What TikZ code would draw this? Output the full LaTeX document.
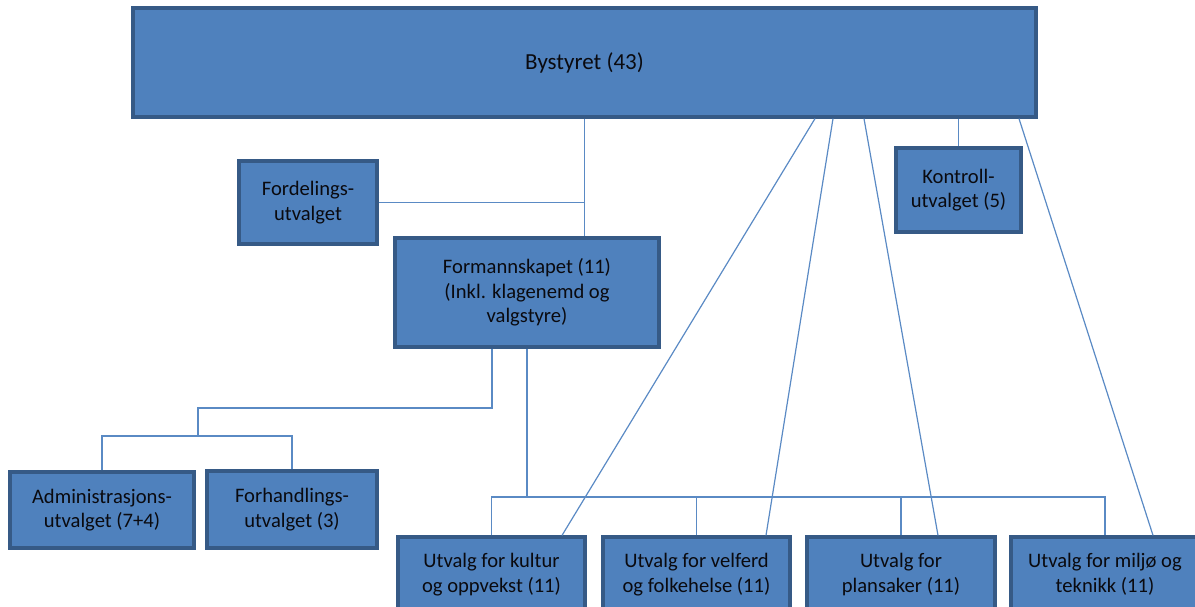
\documentclass[tikz,border=0pt]{standalone}
\usepackage{fontspec}
\setmainfont{Carlito}
\usepackage{tikz}
\usetikzlibrary{positioning,calc}
\usepackage{xcolor}
\definecolor{boxfill}{RGB}{79,129,189}
\definecolor{boxline}{RGB}{54,90,134}
\definecolor{wire}{RGB}{90,138,196}
\definecolor{ink}{RGB}{10,10,15}
\tikzset{
  unit/.style={draw=boxline,fill=boxfill,line width=3.2pt,inner sep=0pt,align=center,
    text=ink,font=\fontsize{20.6}{24.5}\selectfont},
  wire/.style={draw=wire,line width=1.2pt},
}

\begin{document}
\begin{tikzpicture}[x=1pt,y=-1pt]
\useasboundingbox (0,0) rectangle (1195,607);
% council
\node[unit,minimum width=903,minimum height=109,font=\fontsize{23}{27}\selectfont] (byst) at (584.5,62.5) {Bystyret (43)};
\node[unit,minimum width=138,minimum height=83] (ford) at (308,202.5) {Fordelings-\\utvalget};
\node[unit,minimum width=264,minimum height=109] (form) at (527,292.5) {Formannskapet (11)\\(Inkl. klagenemd og\\valgstyre)};
\node[unit,minimum width=125,minimum height=84] (kontr) at (958.5,190) {Kontroll-\\utvalget (5)};

% under formannskapet
\node[unit,minimum width=184,minimum height=76] (adm) at (102,510) {Administrasjons-\\utvalget (7+4)};
\node[unit,minimum width=170,minimum height=77] (forh) at (292,509.5) {Forhandlings-\\utvalget (3)};

% committees
\node[unit,minimum width=187,minimum height=75] (kult) at (491.5,574.5) {Utvalg for kultur\\og oppvekst (11)};
\node[unit,minimum width=187,minimum height=75] (velf) at (696.5,574.5) {Utvalg for velferd\\og folkehelse (11)};
\node[unit,minimum width=188,minimum height=75] (plan) at (901,574.5) {Utvalg for\\plansaker (11)};
\node[unit,minimum width=188,minimum height=75] (milj) at (1105,574.5) {Utvalg for milj\o{} og\\teknikk (11)};

\coordinate (split1) at (198,408);
\coordinate (split2) at (198,436);
\coordinate (bus) at (527,497);

% lines from bystyret
\draw[wire] (byst) -- (byst |- form.north);
\draw[wire] (ford.east) -- (ford.east -| byst);
\draw[wire] (byst.south -| kontr) -- (kontr.north);
\draw[wire] ([xshift=230.5]byst.south) -- ([xshift=70.5]kult.north);
\draw[wire] ([xshift=248.5]byst.south) -- ([xshift=69.5]velf.north);
\draw[wire] ([xshift=279.5]byst.south) -- ([xshift=37]plan.north);
\draw[wire] ([xshift=434.5]byst.south) -- ([xshift=48]milj.north);

% formannskapet -> adm/forh
\draw[wire] ([xshift=-35]form.south) |- (split1) -- (split2);
\draw[wire] (adm.north) |- (split2) -| (forh.north);

% formannskapet -> committees
\draw[wire] (form.south) -- (form.south |- bus);
\draw[wire] (kult.north) |- (milj.north |- bus) -- (milj.north);
\draw[wire] (velf.north) -- (velf.north |- bus);
\draw[wire] (plan.north) -- (plan.north |- bus);
\end{tikzpicture}
\end{document}
